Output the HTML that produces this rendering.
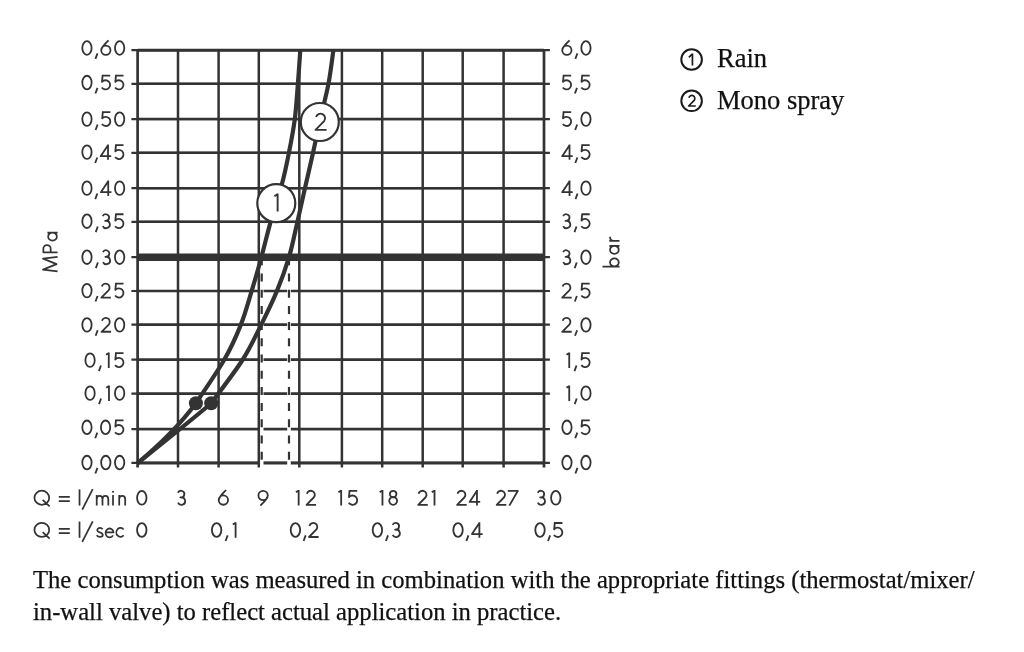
<!DOCTYPE html>
<html><head><meta charset="utf-8"><style>
html,body{margin:0;padding:0;background:#fff;width:1024px;height:652px;overflow:hidden}
svg{position:absolute;left:0;top:0;will-change:transform;filter:blur(0.4px)}
.sf{font-family:"Liberation Serif",serif}
</style></head><body>
<svg width="1024" height="652" viewBox="0 0 1024 652">
<line x1="131.4" y1="50.20" x2="549.9" y2="50.20" stroke="#333333" stroke-width="2.2"/>
<line x1="137.6" y1="50.20" x2="544.0" y2="50.20" stroke="#333333" stroke-width="2.9"/>
<line x1="131.4" y1="83.85" x2="549.9" y2="83.85" stroke="#333333" stroke-width="2.2"/>
<line x1="137.6" y1="83.85" x2="544.0" y2="83.85" stroke="#333333" stroke-width="2.5"/>
<line x1="131.4" y1="119.10" x2="549.9" y2="119.10" stroke="#333333" stroke-width="2.2"/>
<line x1="137.6" y1="119.10" x2="544.0" y2="119.10" stroke="#333333" stroke-width="2.5"/>
<line x1="131.4" y1="152.80" x2="549.9" y2="152.80" stroke="#333333" stroke-width="2.2"/>
<line x1="137.6" y1="152.80" x2="544.0" y2="152.80" stroke="#333333" stroke-width="2.5"/>
<line x1="131.4" y1="188.15" x2="549.9" y2="188.15" stroke="#333333" stroke-width="2.2"/>
<line x1="137.6" y1="188.15" x2="544.0" y2="188.15" stroke="#333333" stroke-width="2.5"/>
<line x1="131.4" y1="221.80" x2="549.9" y2="221.80" stroke="#333333" stroke-width="2.2"/>
<line x1="137.6" y1="221.80" x2="544.0" y2="221.80" stroke="#333333" stroke-width="2.5"/>
<line x1="131.4" y1="257.20" x2="549.9" y2="257.20" stroke="#333333" stroke-width="2.2"/>
<line x1="137.6" y1="257.20" x2="544.0" y2="257.20" stroke="#333333" stroke-width="2.5"/>
<line x1="131.4" y1="291.00" x2="549.9" y2="291.00" stroke="#333333" stroke-width="2.2"/>
<line x1="137.6" y1="291.00" x2="544.0" y2="291.00" stroke="#333333" stroke-width="2.5"/>
<line x1="131.4" y1="324.65" x2="549.9" y2="324.65" stroke="#333333" stroke-width="2.2"/>
<line x1="137.6" y1="324.65" x2="544.0" y2="324.65" stroke="#333333" stroke-width="2.5"/>
<line x1="131.4" y1="359.65" x2="549.9" y2="359.65" stroke="#333333" stroke-width="2.2"/>
<line x1="137.6" y1="359.65" x2="544.0" y2="359.65" stroke="#333333" stroke-width="2.5"/>
<line x1="131.4" y1="393.65" x2="549.9" y2="393.65" stroke="#333333" stroke-width="2.2"/>
<line x1="137.6" y1="393.65" x2="544.0" y2="393.65" stroke="#333333" stroke-width="2.5"/>
<line x1="131.4" y1="429.10" x2="549.9" y2="429.10" stroke="#333333" stroke-width="2.2"/>
<line x1="137.6" y1="429.10" x2="544.0" y2="429.10" stroke="#333333" stroke-width="2.5"/>
<line x1="131.4" y1="462.95" x2="549.9" y2="462.95" stroke="#333333" stroke-width="2.2"/>
<line x1="137.6" y1="462.95" x2="544.0" y2="462.95" stroke="#333333" stroke-width="2.9"/>
<line x1="261.7" y1="260" x2="261.7" y2="465" stroke="#fff" stroke-width="3.6"/>
<line x1="289.0" y1="260" x2="289.0" y2="465" stroke="#fff" stroke-width="3.6"/>
<line x1="137.6" y1="50.2" x2="137.6" y2="467.5" stroke="#333333" stroke-width="2.7"/>
<line x1="178.0" y1="50.2" x2="178.0" y2="467.5" stroke="#333333" stroke-width="2.5"/>
<line x1="218.6" y1="50.2" x2="218.6" y2="467.5" stroke="#333333" stroke-width="2.5"/>
<line x1="258.8" y1="50.2" x2="258.8" y2="467.5" stroke="#333333" stroke-width="2.5"/>
<line x1="299.3" y1="50.2" x2="299.3" y2="467.5" stroke="#333333" stroke-width="2.5"/>
<line x1="341.9" y1="50.2" x2="341.9" y2="467.5" stroke="#333333" stroke-width="2.5"/>
<line x1="382.2" y1="50.2" x2="382.2" y2="467.5" stroke="#333333" stroke-width="2.5"/>
<line x1="422.7" y1="50.2" x2="422.7" y2="467.5" stroke="#333333" stroke-width="2.5"/>
<line x1="462.7" y1="50.2" x2="462.7" y2="467.5" stroke="#333333" stroke-width="2.5"/>
<line x1="503.6" y1="50.2" x2="503.6" y2="467.5" stroke="#333333" stroke-width="2.5"/>
<line x1="544.0" y1="50.2" x2="544.0" y2="467.5" stroke="#333333" stroke-width="2.7"/>
<line x1="261.7" y1="257.3" x2="261.7" y2="463" stroke="#333333" stroke-width="2.2" stroke-dasharray="8 8.2"/>
<line x1="289.0" y1="257.3" x2="289.0" y2="463" stroke="#333333" stroke-width="2.2" stroke-dasharray="8 8.2"/>
<line x1="137.6" y1="257.2" x2="544.0" y2="257.2" stroke="#333333" stroke-width="7.5"/>
<path d="M137.6,463.1 Q174.4,432.3 195.9,403.2 C200.60,396.00 216.63,373.02 224.10,360.00 C231.57,346.98 236.10,336.62 240.70,325.10 C245.30,313.58 248.25,302.22 251.70,290.90 C255.15,279.58 258.25,268.70 261.40,257.20 C264.55,245.70 267.13,234.27 270.60,221.90 C274.07,209.53 279.15,194.50 282.20,183.00 C285.25,171.50 286.80,163.53 288.90,152.90 C291.00,142.27 293.30,130.75 294.80,119.20 C296.30,107.65 296.98,95.12 297.90,83.60 C298.82,72.08 299.90,55.68 300.30,50.10" fill="none" stroke="#333333" stroke-width="4.2" stroke-linejoin="round"/>
<path d="M137.6,463.1 Q202.5,411.0 211.2,403.2 C216.42,396.00 234.20,373.02 242.50,360.00 C250.80,346.98 255.25,336.62 261.00,325.10 C266.75,313.58 272.33,302.22 277.00,290.90 C281.67,279.58 285.60,268.70 289.00,257.20 C292.40,245.70 294.73,233.43 297.40,221.90 C300.07,210.37 302.40,199.50 305.00,188.00 C307.60,176.50 310.55,163.95 313.00,152.90 C315.45,141.85 317.12,133.25 319.70,121.70 C322.28,110.15 326.22,95.53 328.50,83.60 C330.78,71.67 332.58,55.68 333.40,50.10" fill="none" stroke="#333333" stroke-width="4.2" stroke-linejoin="round"/>
<circle cx="195.9" cy="403.2" r="7.0" fill="#333333"/>
<circle cx="211.2" cy="403.2" r="7.0" fill="#333333"/>
<circle cx="276.3" cy="203.2" r="19.0" fill="#fff" stroke="#333333" stroke-width="2.2"/>
<circle cx="319.8" cy="122.0" r="19.0" fill="#fff" stroke="#333333" stroke-width="2.2"/>
<path transform="translate(273.5,211.6) scale(1.2)" d="M0.78,-12.75 L3.43,-14.55 M3.43,-15 L3.43,0" fill="none" stroke="#333333" stroke-width="1.58" stroke-linejoin="round"/>
<path transform="translate(314.6,130.8) scale(1.2)" d="M1.18,-11.4 A3.85,3.85 0 1 1 7.93,-8.03 L0.78,-0.78 L10,-0.78" fill="none" stroke="#333333" stroke-width="1.58" stroke-linejoin="round"/>
<path transform="translate(81.4,55.73) scale(1.03)" d="M5.4,-14.12 A4.53,6.62 0 1 1 5.4,-0.88 A4.53,6.62 0 1 1 5.4,-14.12 Z" fill="none" stroke="#333333" stroke-width="1.75" stroke-linejoin="round"/>
<path transform="translate(94.49,55.73) scale(1.03)" d="M2.9,-2.3 L0.9,3.1" fill="none" stroke="#333333" stroke-width="1.75" stroke-linejoin="round"/>
<path transform="translate(100.37,55.73) scale(1.03)" d="M7.9,-15 C5.6,-12.4 1.3,-8.9 0.8,-5.3 M5.3,-9.8 A4.5,4.5 0 1 1 5.3,-0.8 A4.5,4.5 0 1 1 5.3,-9.8 Z" fill="none" stroke="#333333" stroke-width="1.75" stroke-linejoin="round"/>
<path transform="translate(114.08,55.73) scale(1.03)" d="M5.4,-14.12 A4.53,6.62 0 1 1 5.4,-0.88 A4.53,6.62 0 1 1 5.4,-14.12 Z" fill="none" stroke="#333333" stroke-width="1.75" stroke-linejoin="round"/>
<path transform="translate(561.4,55.73) scale(1.03)" d="M7.9,-15 C5.6,-12.4 1.3,-8.9 0.8,-5.3 M5.3,-9.8 A4.5,4.5 0 1 1 5.3,-0.8 A4.5,4.5 0 1 1 5.3,-9.8 Z" fill="none" stroke="#333333" stroke-width="1.75" stroke-linejoin="round"/>
<path transform="translate(574.39,55.73) scale(1.03)" d="M2.9,-2.3 L0.9,3.1" fill="none" stroke="#333333" stroke-width="1.75" stroke-linejoin="round"/>
<path transform="translate(580.38,55.73) scale(1.03)" d="M5.4,-14.12 A4.53,6.62 0 1 1 5.4,-0.88 A4.53,6.62 0 1 1 5.4,-14.12 Z" fill="none" stroke="#333333" stroke-width="1.75" stroke-linejoin="round"/>
<path transform="translate(81.4,90.27) scale(1.03)" d="M5.4,-14.12 A4.53,6.62 0 1 1 5.4,-0.88 A4.53,6.62 0 1 1 5.4,-14.12 Z" fill="none" stroke="#333333" stroke-width="1.75" stroke-linejoin="round"/>
<path transform="translate(94.5,90.27) scale(1.03)" d="M2.9,-2.3 L0.9,3.1" fill="none" stroke="#333333" stroke-width="1.75" stroke-linejoin="round"/>
<path transform="translate(100.39,90.27) scale(1.03)" d="M1.9,-14.23 L9.5,-14.23 M2.2,-15 L1.57,-8.13 A4.47,4.47 0 1 1 1.33,-2.68" fill="none" stroke="#333333" stroke-width="1.75" stroke-linejoin="round"/>
<path transform="translate(113.74,90.27) scale(1.03)" d="M1.9,-14.23 L9.5,-14.23 M2.2,-15 L1.57,-8.13 A4.47,4.47 0 1 1 1.33,-2.68" fill="none" stroke="#333333" stroke-width="1.75" stroke-linejoin="round"/>
<path transform="translate(561.4,90.27) scale(1.03)" d="M1.9,-14.23 L9.5,-14.23 M2.2,-15 L1.57,-8.13 A4.47,4.47 0 1 1 1.33,-2.68" fill="none" stroke="#333333" stroke-width="1.75" stroke-linejoin="round"/>
<path transform="translate(573.99,90.27) scale(1.03)" d="M2.9,-2.3 L0.9,3.1" fill="none" stroke="#333333" stroke-width="1.75" stroke-linejoin="round"/>
<path transform="translate(579.94,90.27) scale(1.03)" d="M1.9,-14.23 L9.5,-14.23 M2.2,-15 L1.57,-8.13 A4.47,4.47 0 1 1 1.33,-2.68" fill="none" stroke="#333333" stroke-width="1.75" stroke-linejoin="round"/>
<path transform="translate(81.4,126.82) scale(1.03)" d="M5.4,-14.12 A4.53,6.62 0 1 1 5.4,-0.88 A4.53,6.62 0 1 1 5.4,-14.12 Z" fill="none" stroke="#333333" stroke-width="1.75" stroke-linejoin="round"/>
<path transform="translate(94.61,126.82) scale(1.03)" d="M2.9,-2.3 L0.9,3.1" fill="none" stroke="#333333" stroke-width="1.75" stroke-linejoin="round"/>
<path transform="translate(100.61,126.82) scale(1.03)" d="M1.9,-14.23 L9.5,-14.23 M2.2,-15 L1.57,-8.13 A4.47,4.47 0 1 1 1.33,-2.68" fill="none" stroke="#333333" stroke-width="1.75" stroke-linejoin="round"/>
<path transform="translate(114.08,126.82) scale(1.03)" d="M5.4,-14.12 A4.53,6.62 0 1 1 5.4,-0.88 A4.53,6.62 0 1 1 5.4,-14.12 Z" fill="none" stroke="#333333" stroke-width="1.75" stroke-linejoin="round"/>
<path transform="translate(561.4,126.82) scale(1.03)" d="M1.9,-14.23 L9.5,-14.23 M2.2,-15 L1.57,-8.13 A4.47,4.47 0 1 1 1.33,-2.68" fill="none" stroke="#333333" stroke-width="1.75" stroke-linejoin="round"/>
<path transform="translate(574.21,126.82) scale(1.03)" d="M2.9,-2.3 L0.9,3.1" fill="none" stroke="#333333" stroke-width="1.75" stroke-linejoin="round"/>
<path transform="translate(580.38,126.82) scale(1.03)" d="M5.4,-14.12 A4.53,6.62 0 1 1 5.4,-0.88 A4.53,6.62 0 1 1 5.4,-14.12 Z" fill="none" stroke="#333333" stroke-width="1.75" stroke-linejoin="round"/>
<path transform="translate(81.4,159.83) scale(1.03)" d="M5.4,-14.12 A4.53,6.62 0 1 1 5.4,-0.88 A4.53,6.62 0 1 1 5.4,-14.12 Z" fill="none" stroke="#333333" stroke-width="1.75" stroke-linejoin="round"/>
<path transform="translate(94.24,159.83) scale(1.03)" d="M2.9,-2.3 L0.9,3.1" fill="none" stroke="#333333" stroke-width="1.75" stroke-linejoin="round"/>
<path transform="translate(99.87,159.83) scale(1.03)" d="M7.9,-14.2 L0.78,-3.55 L11,-3.55 M7.9,-15 L7.9,0" fill="none" stroke="#333333" stroke-width="1.75" stroke-linejoin="round"/>
<path transform="translate(113.74,159.83) scale(1.03)" d="M1.9,-14.23 L9.5,-14.23 M2.2,-15 L1.57,-8.13 A4.47,4.47 0 1 1 1.33,-2.68" fill="none" stroke="#333333" stroke-width="1.75" stroke-linejoin="round"/>
<path transform="translate(561.4,159.83) scale(1.03)" d="M7.9,-14.2 L0.78,-3.55 L11,-3.55 M7.9,-15 L7.9,0" fill="none" stroke="#333333" stroke-width="1.75" stroke-linejoin="round"/>
<path transform="translate(574.38,159.83) scale(1.03)" d="M2.9,-2.3 L0.9,3.1" fill="none" stroke="#333333" stroke-width="1.75" stroke-linejoin="round"/>
<path transform="translate(579.94,159.83) scale(1.03)" d="M1.9,-14.23 L9.5,-14.23 M2.2,-15 L1.57,-8.13 A4.47,4.47 0 1 1 1.33,-2.68" fill="none" stroke="#333333" stroke-width="1.75" stroke-linejoin="round"/>
<path transform="translate(81.4,195.88) scale(1.03)" d="M5.4,-14.12 A4.53,6.62 0 1 1 5.4,-0.88 A4.53,6.62 0 1 1 5.4,-14.12 Z" fill="none" stroke="#333333" stroke-width="1.75" stroke-linejoin="round"/>
<path transform="translate(94.35,195.88) scale(1.03)" d="M2.9,-2.3 L0.9,3.1" fill="none" stroke="#333333" stroke-width="1.75" stroke-linejoin="round"/>
<path transform="translate(100.09,195.88) scale(1.03)" d="M7.9,-14.2 L0.78,-3.55 L11,-3.55 M7.9,-15 L7.9,0" fill="none" stroke="#333333" stroke-width="1.75" stroke-linejoin="round"/>
<path transform="translate(114.08,195.88) scale(1.03)" d="M5.4,-14.12 A4.53,6.62 0 1 1 5.4,-0.88 A4.53,6.62 0 1 1 5.4,-14.12 Z" fill="none" stroke="#333333" stroke-width="1.75" stroke-linejoin="round"/>
<path transform="translate(561.4,195.88) scale(1.03)" d="M7.9,-14.2 L0.78,-3.55 L11,-3.55 M7.9,-15 L7.9,0" fill="none" stroke="#333333" stroke-width="1.75" stroke-linejoin="round"/>
<path transform="translate(574.6,195.88) scale(1.03)" d="M2.9,-2.3 L0.9,3.1" fill="none" stroke="#333333" stroke-width="1.75" stroke-linejoin="round"/>
<path transform="translate(580.38,195.88) scale(1.03)" d="M5.4,-14.12 A4.53,6.62 0 1 1 5.4,-0.88 A4.53,6.62 0 1 1 5.4,-14.12 Z" fill="none" stroke="#333333" stroke-width="1.75" stroke-linejoin="round"/>
<path transform="translate(81.4,228.93) scale(1.03)" d="M5.4,-14.12 A4.53,6.62 0 1 1 5.4,-0.88 A4.53,6.62 0 1 1 5.4,-14.12 Z" fill="none" stroke="#333333" stroke-width="1.75" stroke-linejoin="round"/>
<path transform="translate(94.81,228.93) scale(1.03)" d="M2.9,-2.3 L0.9,3.1" fill="none" stroke="#333333" stroke-width="1.75" stroke-linejoin="round"/>
<path transform="translate(101,228.93) scale(1.03)" d="M1.68,-12.36 A3.23,3.23 0 1 1 4.04,-7.82 L4.38,-7.87 A3.58,3.58 0 1 1 1.76,-2.84" fill="none" stroke="#333333" stroke-width="1.75" stroke-linejoin="round"/>
<path transform="translate(113.74,228.93) scale(1.03)" d="M1.9,-14.23 L9.5,-14.23 M2.2,-15 L1.57,-8.13 A4.47,4.47 0 1 1 1.33,-2.68" fill="none" stroke="#333333" stroke-width="1.75" stroke-linejoin="round"/>
<path transform="translate(561.4,228.93) scale(1.03)" d="M1.68,-12.36 A3.23,3.23 0 1 1 4.04,-7.82 L4.38,-7.87 A3.58,3.58 0 1 1 1.76,-2.84" fill="none" stroke="#333333" stroke-width="1.75" stroke-linejoin="round"/>
<path transform="translate(573.53,228.93) scale(1.03)" d="M2.9,-2.3 L0.9,3.1" fill="none" stroke="#333333" stroke-width="1.75" stroke-linejoin="round"/>
<path transform="translate(579.94,228.93) scale(1.03)" d="M1.9,-14.23 L9.5,-14.23 M2.2,-15 L1.57,-8.13 A4.47,4.47 0 1 1 1.33,-2.68" fill="none" stroke="#333333" stroke-width="1.75" stroke-linejoin="round"/>
<path transform="translate(81.4,264.93) scale(1.03)" d="M5.4,-14.12 A4.53,6.62 0 1 1 5.4,-0.88 A4.53,6.62 0 1 1 5.4,-14.12 Z" fill="none" stroke="#333333" stroke-width="1.75" stroke-linejoin="round"/>
<path transform="translate(94.92,264.93) scale(1.03)" d="M2.9,-2.3 L0.9,3.1" fill="none" stroke="#333333" stroke-width="1.75" stroke-linejoin="round"/>
<path transform="translate(101.23,264.93) scale(1.03)" d="M1.68,-12.36 A3.23,3.23 0 1 1 4.04,-7.82 L4.38,-7.87 A3.58,3.58 0 1 1 1.76,-2.84" fill="none" stroke="#333333" stroke-width="1.75" stroke-linejoin="round"/>
<path transform="translate(114.08,264.93) scale(1.03)" d="M5.4,-14.12 A4.53,6.62 0 1 1 5.4,-0.88 A4.53,6.62 0 1 1 5.4,-14.12 Z" fill="none" stroke="#333333" stroke-width="1.75" stroke-linejoin="round"/>
<path transform="translate(561.4,264.93) scale(1.03)" d="M1.68,-12.36 A3.23,3.23 0 1 1 4.04,-7.82 L4.38,-7.87 A3.58,3.58 0 1 1 1.76,-2.84" fill="none" stroke="#333333" stroke-width="1.75" stroke-linejoin="round"/>
<path transform="translate(573.75,264.93) scale(1.03)" d="M2.9,-2.3 L0.9,3.1" fill="none" stroke="#333333" stroke-width="1.75" stroke-linejoin="round"/>
<path transform="translate(580.38,264.93) scale(1.03)" d="M5.4,-14.12 A4.53,6.62 0 1 1 5.4,-0.88 A4.53,6.62 0 1 1 5.4,-14.12 Z" fill="none" stroke="#333333" stroke-width="1.75" stroke-linejoin="round"/>
<path transform="translate(81.4,298.33) scale(1.03)" d="M5.4,-14.12 A4.53,6.62 0 1 1 5.4,-0.88 A4.53,6.62 0 1 1 5.4,-14.12 Z" fill="none" stroke="#333333" stroke-width="1.75" stroke-linejoin="round"/>
<path transform="translate(94.58,298.33) scale(1.03)" d="M2.9,-2.3 L0.9,3.1" fill="none" stroke="#333333" stroke-width="1.75" stroke-linejoin="round"/>
<path transform="translate(100.56,298.33) scale(1.03)" d="M1.18,-11.4 A3.85,3.85 0 1 1 7.93,-8.03 L0.78,-0.78 L10,-0.78" fill="none" stroke="#333333" stroke-width="1.75" stroke-linejoin="round"/>
<path transform="translate(113.74,298.33) scale(1.03)" d="M1.9,-14.23 L9.5,-14.23 M2.2,-15 L1.57,-8.13 A4.47,4.47 0 1 1 1.33,-2.68" fill="none" stroke="#333333" stroke-width="1.75" stroke-linejoin="round"/>
<path transform="translate(561.4,298.33) scale(1.03)" d="M1.18,-11.4 A3.85,3.85 0 1 1 7.93,-8.03 L0.78,-0.78 L10,-0.78" fill="none" stroke="#333333" stroke-width="1.75" stroke-linejoin="round"/>
<path transform="translate(573.86,298.33) scale(1.03)" d="M2.9,-2.3 L0.9,3.1" fill="none" stroke="#333333" stroke-width="1.75" stroke-linejoin="round"/>
<path transform="translate(579.94,298.33) scale(1.03)" d="M1.9,-14.23 L9.5,-14.23 M2.2,-15 L1.57,-8.13 A4.47,4.47 0 1 1 1.33,-2.68" fill="none" stroke="#333333" stroke-width="1.75" stroke-linejoin="round"/>
<path transform="translate(81.4,332.57) scale(1.03)" d="M5.4,-14.12 A4.53,6.62 0 1 1 5.4,-0.88 A4.53,6.62 0 1 1 5.4,-14.12 Z" fill="none" stroke="#333333" stroke-width="1.75" stroke-linejoin="round"/>
<path transform="translate(94.7,332.57) scale(1.03)" d="M2.9,-2.3 L0.9,3.1" fill="none" stroke="#333333" stroke-width="1.75" stroke-linejoin="round"/>
<path transform="translate(100.78,332.57) scale(1.03)" d="M1.18,-11.4 A3.85,3.85 0 1 1 7.93,-8.03 L0.78,-0.78 L10,-0.78" fill="none" stroke="#333333" stroke-width="1.75" stroke-linejoin="round"/>
<path transform="translate(114.08,332.57) scale(1.03)" d="M5.4,-14.12 A4.53,6.62 0 1 1 5.4,-0.88 A4.53,6.62 0 1 1 5.4,-14.12 Z" fill="none" stroke="#333333" stroke-width="1.75" stroke-linejoin="round"/>
<path transform="translate(561.4,332.57) scale(1.03)" d="M1.18,-11.4 A3.85,3.85 0 1 1 7.93,-8.03 L0.78,-0.78 L10,-0.78" fill="none" stroke="#333333" stroke-width="1.75" stroke-linejoin="round"/>
<path transform="translate(574.08,332.57) scale(1.03)" d="M2.9,-2.3 L0.9,3.1" fill="none" stroke="#333333" stroke-width="1.75" stroke-linejoin="round"/>
<path transform="translate(580.38,332.57) scale(1.03)" d="M5.4,-14.12 A4.53,6.62 0 1 1 5.4,-0.88 A4.53,6.62 0 1 1 5.4,-14.12 Z" fill="none" stroke="#333333" stroke-width="1.75" stroke-linejoin="round"/>
<path transform="translate(84.5,367.88) scale(1.03)" d="M5.4,-14.12 A4.53,6.62 0 1 1 5.4,-0.88 A4.53,6.62 0 1 1 5.4,-14.12 Z" fill="none" stroke="#333333" stroke-width="1.75" stroke-linejoin="round"/>
<path transform="translate(97.96,367.88) scale(1.03)" d="M2.9,-2.3 L0.9,3.1" fill="none" stroke="#333333" stroke-width="1.75" stroke-linejoin="round"/>
<path transform="translate(105.23,367.88) scale(1.03)" d="M0.78,-12.75 L3.43,-14.55 M3.43,-15 L3.43,0" fill="none" stroke="#333333" stroke-width="1.75" stroke-linejoin="round"/>
<path transform="translate(113.74,367.88) scale(1.03)" d="M1.9,-14.23 L9.5,-14.23 M2.2,-15 L1.57,-8.13 A4.47,4.47 0 1 1 1.33,-2.68" fill="none" stroke="#333333" stroke-width="1.75" stroke-linejoin="round"/>
<path transform="translate(565.7,367.88) scale(1.03)" d="M0.78,-12.75 L3.43,-14.55 M3.43,-15 L3.43,0" fill="none" stroke="#333333" stroke-width="1.75" stroke-linejoin="round"/>
<path transform="translate(573.54,367.88) scale(1.03)" d="M2.9,-2.3 L0.9,3.1" fill="none" stroke="#333333" stroke-width="1.75" stroke-linejoin="round"/>
<path transform="translate(579.94,367.88) scale(1.03)" d="M1.9,-14.23 L9.5,-14.23 M2.2,-15 L1.57,-8.13 A4.47,4.47 0 1 1 1.33,-2.68" fill="none" stroke="#333333" stroke-width="1.75" stroke-linejoin="round"/>
<path transform="translate(84.5,400.88) scale(1.03)" d="M5.4,-14.12 A4.53,6.62 0 1 1 5.4,-0.88 A4.53,6.62 0 1 1 5.4,-14.12 Z" fill="none" stroke="#333333" stroke-width="1.75" stroke-linejoin="round"/>
<path transform="translate(98.07,400.88) scale(1.03)" d="M2.9,-2.3 L0.9,3.1" fill="none" stroke="#333333" stroke-width="1.75" stroke-linejoin="round"/>
<path transform="translate(105.45,400.88) scale(1.03)" d="M0.78,-12.75 L3.43,-14.55 M3.43,-15 L3.43,0" fill="none" stroke="#333333" stroke-width="1.75" stroke-linejoin="round"/>
<path transform="translate(114.08,400.88) scale(1.03)" d="M5.4,-14.12 A4.53,6.62 0 1 1 5.4,-0.88 A4.53,6.62 0 1 1 5.4,-14.12 Z" fill="none" stroke="#333333" stroke-width="1.75" stroke-linejoin="round"/>
<path transform="translate(565.7,400.88) scale(1.03)" d="M0.78,-12.75 L3.43,-14.55 M3.43,-15 L3.43,0" fill="none" stroke="#333333" stroke-width="1.75" stroke-linejoin="round"/>
<path transform="translate(573.76,400.88) scale(1.03)" d="M2.9,-2.3 L0.9,3.1" fill="none" stroke="#333333" stroke-width="1.75" stroke-linejoin="round"/>
<path transform="translate(580.38,400.88) scale(1.03)" d="M5.4,-14.12 A4.53,6.62 0 1 1 5.4,-0.88 A4.53,6.62 0 1 1 5.4,-14.12 Z" fill="none" stroke="#333333" stroke-width="1.75" stroke-linejoin="round"/>
<path transform="translate(81.4,435.03) scale(1.03)" d="M5.4,-14.12 A4.53,6.62 0 1 1 5.4,-0.88 A4.53,6.62 0 1 1 5.4,-14.12 Z" fill="none" stroke="#333333" stroke-width="1.75" stroke-linejoin="round"/>
<path transform="translate(94.31,435.03) scale(1.03)" d="M2.9,-2.3 L0.9,3.1" fill="none" stroke="#333333" stroke-width="1.75" stroke-linejoin="round"/>
<path transform="translate(100.01,435.03) scale(1.03)" d="M5.4,-14.12 A4.53,6.62 0 1 1 5.4,-0.88 A4.53,6.62 0 1 1 5.4,-14.12 Z" fill="none" stroke="#333333" stroke-width="1.75" stroke-linejoin="round"/>
<path transform="translate(113.74,435.03) scale(1.03)" d="M1.9,-14.23 L9.5,-14.23 M2.2,-15 L1.57,-8.13 A4.47,4.47 0 1 1 1.33,-2.68" fill="none" stroke="#333333" stroke-width="1.75" stroke-linejoin="round"/>
<path transform="translate(561.4,435.03) scale(1.03)" d="M5.4,-14.12 A4.53,6.62 0 1 1 5.4,-0.88 A4.53,6.62 0 1 1 5.4,-14.12 Z" fill="none" stroke="#333333" stroke-width="1.75" stroke-linejoin="round"/>
<path transform="translate(574.28,435.03) scale(1.03)" d="M2.9,-2.3 L0.9,3.1" fill="none" stroke="#333333" stroke-width="1.75" stroke-linejoin="round"/>
<path transform="translate(579.94,435.03) scale(1.03)" d="M1.9,-14.23 L9.5,-14.23 M2.2,-15 L1.57,-8.13 A4.47,4.47 0 1 1 1.33,-2.68" fill="none" stroke="#333333" stroke-width="1.75" stroke-linejoin="round"/>
<path transform="translate(81.4,470.28) scale(1.03)" d="M5.4,-14.12 A4.53,6.62 0 1 1 5.4,-0.88 A4.53,6.62 0 1 1 5.4,-14.12 Z" fill="none" stroke="#333333" stroke-width="1.75" stroke-linejoin="round"/>
<path transform="translate(94.42,470.28) scale(1.03)" d="M2.9,-2.3 L0.9,3.1" fill="none" stroke="#333333" stroke-width="1.75" stroke-linejoin="round"/>
<path transform="translate(100.23,470.28) scale(1.03)" d="M5.4,-14.12 A4.53,6.62 0 1 1 5.4,-0.88 A4.53,6.62 0 1 1 5.4,-14.12 Z" fill="none" stroke="#333333" stroke-width="1.75" stroke-linejoin="round"/>
<path transform="translate(114.08,470.28) scale(1.03)" d="M5.4,-14.12 A4.53,6.62 0 1 1 5.4,-0.88 A4.53,6.62 0 1 1 5.4,-14.12 Z" fill="none" stroke="#333333" stroke-width="1.75" stroke-linejoin="round"/>
<path transform="translate(561.4,470.28) scale(1.03)" d="M5.4,-14.12 A4.53,6.62 0 1 1 5.4,-0.88 A4.53,6.62 0 1 1 5.4,-14.12 Z" fill="none" stroke="#333333" stroke-width="1.75" stroke-linejoin="round"/>
<path transform="translate(574.49,470.28) scale(1.03)" d="M2.9,-2.3 L0.9,3.1" fill="none" stroke="#333333" stroke-width="1.75" stroke-linejoin="round"/>
<path transform="translate(580.38,470.28) scale(1.03)" d="M5.4,-14.12 A4.53,6.62 0 1 1 5.4,-0.88 A4.53,6.62 0 1 1 5.4,-14.12 Z" fill="none" stroke="#333333" stroke-width="1.75" stroke-linejoin="round"/>
<path transform="translate(136.18,505.6) scale(1.04)" d="M5.4,-14.12 A4.53,6.62 0 1 1 5.4,-0.88 A4.53,6.62 0 1 1 5.4,-14.12 Z" fill="none" stroke="#333333" stroke-width="1.75" stroke-linejoin="round"/>
<path transform="translate(176.19,505.6) scale(1.04)" d="M1.68,-12.36 A3.23,3.23 0 1 1 4.04,-7.82 L4.38,-7.87 A3.58,3.58 0 1 1 1.76,-2.84" fill="none" stroke="#333333" stroke-width="1.75" stroke-linejoin="round"/>
<path transform="translate(217.84,505.6) scale(1.04)" d="M7.9,-15 C5.6,-12.4 1.3,-8.9 0.8,-5.3 M5.3,-9.8 A4.5,4.5 0 1 1 5.3,-0.8 A4.5,4.5 0 1 1 5.3,-9.8 Z" fill="none" stroke="#333333" stroke-width="1.75" stroke-linejoin="round"/>
<path transform="translate(257.59,505.6) scale(1.04) rotate(180 5.3 -7.5)" d="M7.9,-15 C5.6,-12.4 1.3,-8.9 0.8,-5.3 M5.3,-9.8 A4.5,4.5 0 1 1 5.3,-0.8 A4.5,4.5 0 1 1 5.3,-9.8 Z" fill="none" stroke="#333333" stroke-width="1.75" stroke-linejoin="round"/>
<path transform="translate(295.1,505.6) scale(1.04)" d="M0.78,-12.75 L3.43,-14.55 M3.43,-15 L3.43,0" fill="none" stroke="#333333" stroke-width="1.75" stroke-linejoin="round"/>
<path transform="translate(305.7,505.6) scale(1.04)" d="M1.18,-11.4 A3.85,3.85 0 1 1 7.93,-8.03 L0.78,-0.78 L10,-0.78" fill="none" stroke="#333333" stroke-width="1.75" stroke-linejoin="round"/>
<path transform="translate(337.6,505.6) scale(1.04)" d="M0.78,-12.75 L3.43,-14.55 M3.43,-15 L3.43,0" fill="none" stroke="#333333" stroke-width="1.75" stroke-linejoin="round"/>
<path transform="translate(347.34,505.6) scale(1.04)" d="M1.9,-14.23 L9.5,-14.23 M2.2,-15 L1.57,-8.13 A4.47,4.47 0 1 1 1.33,-2.68" fill="none" stroke="#333333" stroke-width="1.75" stroke-linejoin="round"/>
<path transform="translate(378.9,505.6) scale(1.04)" d="M0.78,-12.75 L3.43,-14.55 M3.43,-15 L3.43,0" fill="none" stroke="#333333" stroke-width="1.75" stroke-linejoin="round"/>
<path transform="translate(388.22,505.6) scale(1.04)" d="M4.75,-14.23 A3.175,3.175 0 1 1 4.75,-7.88 A3.175,3.175 0 1 1 4.75,-14.23 Z M4.75,-8.33 A3.775,3.775 0 1 1 4.75,-0.78 A3.775,3.775 0 1 1 4.75,-8.33 Z" fill="none" stroke="#333333" stroke-width="1.75" stroke-linejoin="round"/>
<path transform="translate(417.4,505.6) scale(1.04)" d="M1.18,-11.4 A3.85,3.85 0 1 1 7.93,-8.03 L0.78,-0.78 L10,-0.78" fill="none" stroke="#333333" stroke-width="1.75" stroke-linejoin="round"/>
<path transform="translate(430.93,505.6) scale(1.04)" d="M0.78,-12.75 L3.43,-14.55 M3.43,-15 L3.43,0" fill="none" stroke="#333333" stroke-width="1.75" stroke-linejoin="round"/>
<path transform="translate(456.3,505.6) scale(1.04)" d="M1.18,-11.4 A3.85,3.85 0 1 1 7.93,-8.03 L0.78,-0.78 L10,-0.78" fill="none" stroke="#333333" stroke-width="1.75" stroke-linejoin="round"/>
<path transform="translate(468.76,505.6) scale(1.04)" d="M7.9,-14.2 L0.78,-3.55 L11,-3.55 M7.9,-15 L7.9,0" fill="none" stroke="#333333" stroke-width="1.75" stroke-linejoin="round"/>
<path transform="translate(495.9,505.6) scale(1.04)" d="M1.18,-11.4 A3.85,3.85 0 1 1 7.93,-8.03 L0.78,-0.78 L10,-0.78" fill="none" stroke="#333333" stroke-width="1.75" stroke-linejoin="round"/>
<path transform="translate(507.48,505.6) scale(1.04)" d="M0.3,-14.23 L10,-14.23 L1.8,0" fill="none" stroke="#333333" stroke-width="1.75" stroke-linejoin="round"/>
<path transform="translate(536,505.6) scale(1.04)" d="M1.68,-12.36 A3.23,3.23 0 1 1 4.04,-7.82 L4.38,-7.87 A3.58,3.58 0 1 1 1.76,-2.84" fill="none" stroke="#333333" stroke-width="1.75" stroke-linejoin="round"/>
<path transform="translate(550.17,505.6) scale(1.04)" d="M5.4,-14.12 A4.53,6.62 0 1 1 5.4,-0.88 A4.53,6.62 0 1 1 5.4,-14.12 Z" fill="none" stroke="#333333" stroke-width="1.75" stroke-linejoin="round"/>
<path transform="translate(136.18,537.8) scale(1.04)" d="M5.4,-14.12 A4.53,6.62 0 1 1 5.4,-0.88 A4.53,6.62 0 1 1 5.4,-14.12 Z" fill="none" stroke="#333333" stroke-width="1.75" stroke-linejoin="round"/>
<path transform="translate(211,537.8) scale(1.04)" d="M5.4,-14.12 A4.53,6.62 0 1 1 5.4,-0.88 A4.53,6.62 0 1 1 5.4,-14.12 Z" fill="none" stroke="#333333" stroke-width="1.75" stroke-linejoin="round"/>
<path transform="translate(224.64,537.8) scale(1.04)" d="M2.9,-2.3 L0.9,3.1" fill="none" stroke="#333333" stroke-width="1.75" stroke-linejoin="round"/>
<path transform="translate(232.03,537.8) scale(1.04)" d="M0.78,-12.75 L3.43,-14.55 M3.43,-15 L3.43,0" fill="none" stroke="#333333" stroke-width="1.75" stroke-linejoin="round"/>
<path transform="translate(289.8,537.8) scale(1.04)" d="M5.4,-14.12 A4.53,6.62 0 1 1 5.4,-0.88 A4.53,6.62 0 1 1 5.4,-14.12 Z" fill="none" stroke="#333333" stroke-width="1.75" stroke-linejoin="round"/>
<path transform="translate(302.64,537.8) scale(1.04)" d="M2.9,-2.3 L0.9,3.1" fill="none" stroke="#333333" stroke-width="1.75" stroke-linejoin="round"/>
<path transform="translate(308.2,537.8) scale(1.04)" d="M1.18,-11.4 A3.85,3.85 0 1 1 7.93,-8.03 L0.78,-0.78 L10,-0.78" fill="none" stroke="#333333" stroke-width="1.75" stroke-linejoin="round"/>
<path transform="translate(371.8,537.8) scale(1.04)" d="M5.4,-14.12 A4.53,6.62 0 1 1 5.4,-0.88 A4.53,6.62 0 1 1 5.4,-14.12 Z" fill="none" stroke="#333333" stroke-width="1.75" stroke-linejoin="round"/>
<path transform="translate(384.98,537.8) scale(1.04)" d="M2.9,-2.3 L0.9,3.1" fill="none" stroke="#333333" stroke-width="1.75" stroke-linejoin="round"/>
<path transform="translate(390.88,537.8) scale(1.04)" d="M1.68,-12.36 A3.23,3.23 0 1 1 4.04,-7.82 L4.38,-7.87 A3.58,3.58 0 1 1 1.76,-2.84" fill="none" stroke="#333333" stroke-width="1.75" stroke-linejoin="round"/>
<path transform="translate(452.4,537.8) scale(1.04)" d="M5.4,-14.12 A4.53,6.62 0 1 1 5.4,-0.88 A4.53,6.62 0 1 1 5.4,-14.12 Z" fill="none" stroke="#333333" stroke-width="1.75" stroke-linejoin="round"/>
<path transform="translate(465.42,537.8) scale(1.04)" d="M2.9,-2.3 L0.9,3.1" fill="none" stroke="#333333" stroke-width="1.75" stroke-linejoin="round"/>
<path transform="translate(471.16,537.8) scale(1.04)" d="M7.9,-14.2 L0.78,-3.55 L11,-3.55 M7.9,-15 L7.9,0" fill="none" stroke="#333333" stroke-width="1.75" stroke-linejoin="round"/>
<path transform="translate(534.4,537.8) scale(1.04)" d="M5.4,-14.12 A4.53,6.62 0 1 1 5.4,-0.88 A4.53,6.62 0 1 1 5.4,-14.12 Z" fill="none" stroke="#333333" stroke-width="1.75" stroke-linejoin="round"/>
<path transform="translate(547.11,537.8) scale(1.04)" d="M2.9,-2.3 L0.9,3.1" fill="none" stroke="#333333" stroke-width="1.75" stroke-linejoin="round"/>
<path transform="translate(552.54,537.8) scale(1.04)" d="M1.9,-14.23 L9.5,-14.23 M2.2,-15 L1.57,-8.13 A4.47,4.47 0 1 1 1.33,-2.68" fill="none" stroke="#333333" stroke-width="1.75" stroke-linejoin="round"/>
<path transform="translate(33.6,505.6) scale(1.04)" d="M7.9,-14.3 A7.1,6.75 0 1 1 7.9,-0.8 A7.1,6.75 0 1 1 7.9,-14.3 Z M8.7,-5.5 L15.4,0.7" fill="none" stroke="#333333" stroke-width="1.68" stroke-linejoin="round"/>
<path transform="translate(58.8,505.6) scale(1.04)" d="M0,-8.5 L10.6,-8.5 M0,-4.4 L10.6,-4.4" fill="none" stroke="#333333" stroke-width="1.68" stroke-linejoin="round"/>
<path transform="translate(78.7,505.6) scale(1.04)" d="M0.78,-15.6 L0.78,0" fill="none" stroke="#333333" stroke-width="1.68" stroke-linejoin="round"/>
<path transform="translate(81.4,505.6) scale(1.04)" d="M10.9,-15.8 L0.8,3.9" fill="none" stroke="#333333" stroke-width="1.68" stroke-linejoin="round"/>
<path transform="translate(95.9,505.6) scale(1.04)" d="M0.78,-10.2 L0.78,0 M0.78,-6.2 C0.78,-8.4 1.9,-9.43 3.55,-9.43 C5.2,-9.43 6.35,-8.4 6.35,-6.2 L6.35,0 M6.35,-6.2 C6.35,-8.4 7.5,-9.43 9.15,-9.43 C10.8,-9.43 11.93,-8.4 11.93,-6.2 L11.93,0" fill="none" stroke="#333333" stroke-width="1.68" stroke-linejoin="round"/>
<path transform="translate(112.2,505.6) scale(1.04)" d="M0.78,-10.2 L0.78,0" fill="none" stroke="#333333" stroke-width="1.68" stroke-linejoin="round"/>
<circle transform="translate(112.2,505.6) scale(1.04)" cx="0.78" cy="-13.3" r="1" fill="#333333"/>
<path transform="translate(118.4,505.6) scale(1.04)" d="M0.78,-10.2 L0.78,0 M0.78,-6.2 C0.78,-8.4 2.0,-9.43 3.65,-9.43 C5.3,-9.43 6.53,-8.4 6.53,-6.2 L6.53,0" fill="none" stroke="#333333" stroke-width="1.68" stroke-linejoin="round"/>
<path transform="translate(33.6,537.8) scale(1.04)" d="M7.9,-14.3 A7.1,6.75 0 1 1 7.9,-0.8 A7.1,6.75 0 1 1 7.9,-14.3 Z M8.7,-5.5 L15.4,0.7" fill="none" stroke="#333333" stroke-width="1.68" stroke-linejoin="round"/>
<path transform="translate(58.8,537.8) scale(1.04)" d="M0,-8.5 L10.6,-8.5 M0,-4.4 L10.6,-4.4" fill="none" stroke="#333333" stroke-width="1.68" stroke-linejoin="round"/>
<path transform="translate(78.7,537.8) scale(1.04)" d="M0.78,-15.6 L0.78,0" fill="none" stroke="#333333" stroke-width="1.68" stroke-linejoin="round"/>
<path transform="translate(81.4,537.8) scale(1.04)" d="M10.9,-15.8 L0.8,3.9" fill="none" stroke="#333333" stroke-width="1.68" stroke-linejoin="round"/>
<path transform="translate(96,537.8) scale(1.04)" d="M6.4,-8.3 C5.8,-9.1 4.9,-9.45 3.8,-9.45 C2.3,-9.45 1.2,-8.6 1.2,-7.3 C1.2,-4.7 6.5,-5.6 6.5,-2.6 C6.5,-1.4 5.4,-0.78 3.9,-0.78 C2.5,-0.78 1.3,-1.4 0.7,-2.4" fill="none" stroke="#333333" stroke-width="1.68" stroke-linejoin="round"/>
<path transform="translate(105.5,537.8) scale(1.04)" d="M0.9,-5.3 L7.7,-5.3 A3.85,4.3 0 1 0 7.2,-2.4" fill="none" stroke="#333333" stroke-width="1.68" stroke-linejoin="round"/>
<path transform="translate(116.3,537.8) scale(1.04)" d="M7.0,-7.9 A3.9,4.33 0 1 0 7.0,-2.4" fill="none" stroke="#333333" stroke-width="1.68" stroke-linejoin="round"/>
<g transform="translate(57.6,272.1) rotate(-90)"><path transform="translate(0,0) scale(1)" d="M0.8,0 L2.5,-14.6 L8.0,-1.0 L13.5,-14.6 L15.2,0" fill="none" stroke="#333333" stroke-width="1.75" stroke-linejoin="round"/>
<path transform="translate(19,0) scale(1)" d="M0.78,0 L0.78,-14.23 L4.4,-14.23 A3.7,3.65 0 0 1 4.4,-6.93 L0.78,-6.93" fill="none" stroke="#333333" stroke-width="1.75" stroke-linejoin="round"/>
<path transform="translate(30.9,0) scale(1)" d="M4.6,-9.43 A3.85,4.33 0 1 0 4.6,-0.78 A3.85,4.33 0 1 0 4.6,-9.43 Z M8.65,-10.2 L8.65,0" fill="none" stroke="#333333" stroke-width="1.75" stroke-linejoin="round"/></g>
<g transform="translate(619.5,267.4) rotate(-90)"><path transform="translate(0,0) scale(1)" d="M0.78,-17.0 L0.78,0 M5.0,-9.43 A3.85,4.33 0 1 1 5.0,-0.78 A3.85,4.33 0 1 1 5.0,-9.43 Z" fill="none" stroke="#333333" stroke-width="1.75" stroke-linejoin="round"/>
<path transform="translate(12.95,0) scale(1)" d="M4.6,-9.43 A3.85,4.33 0 1 0 4.6,-0.78 A3.85,4.33 0 1 0 4.6,-9.43 Z M8.65,-10.2 L8.65,0" fill="none" stroke="#333333" stroke-width="1.75" stroke-linejoin="round"/>
<path transform="translate(25.7,0) scale(1)" d="M0.78,-10.2 L0.78,0 M0.78,-6.0 C0.78,-8.2 2.3,-9.43 4.9,-9.43" fill="none" stroke="#333333" stroke-width="1.75" stroke-linejoin="round"/></g>
<circle cx="691.6" cy="59.5" r="10.3" fill="none" stroke="#1a1a1a" stroke-width="2"/>
<circle cx="691.6" cy="100.8" r="10.3" fill="none" stroke="#1a1a1a" stroke-width="2"/>
<path transform="translate(688.2,65.6) scale(0.8)" d="M0.8,-10.4 L5.3,-14.6 M5.3,-15 L5.3,0" fill="none" stroke="#1a1a1a" stroke-width="2.12" stroke-linejoin="round"/>
<path transform="translate(688,106.6) scale(0.78)" d="M1.18,-11.4 A3.85,3.85 0 1 1 7.93,-8.03 L0.78,-0.78 L10,-0.78" fill="none" stroke="#1a1a1a" stroke-width="2.18" stroke-linejoin="round"/>
<text x="717" y="66.9" class="sf" font-size="26.5" fill="#111" stroke="#111" stroke-width="0.25">Rain</text>
<text x="717" y="108.8" class="sf" font-size="26.5" fill="#111" stroke="#111" stroke-width="0.25">Mono spray</text>
<text x="33.0" y="587.8" class="sf" font-size="24.65" fill="#111" stroke="#111" stroke-width="0.25">The consumption was measured in combination with the appropriate fittings (thermostat/mixer/</text>
<text x="33.0" y="619.8" class="sf" font-size="24.65" fill="#111" stroke="#111" stroke-width="0.25">in-wall valve) to reflect actual application in practice.</text>
</svg>
</body></html>
